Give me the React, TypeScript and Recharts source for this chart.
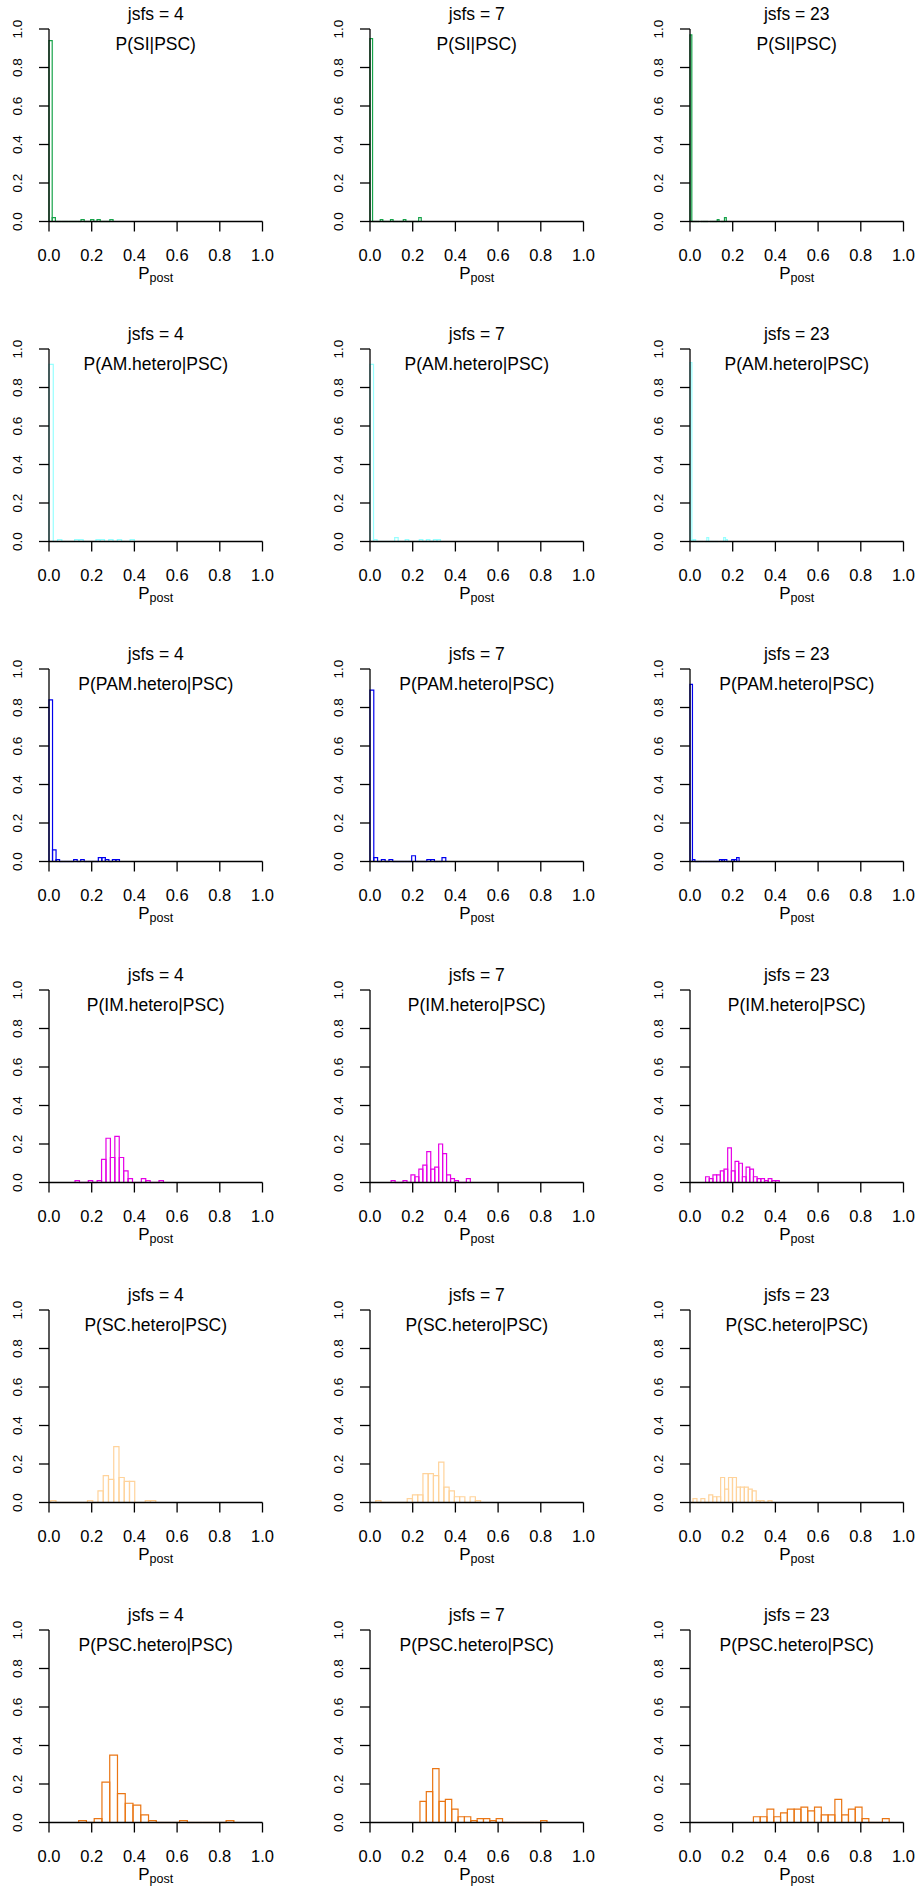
import React from "react";
import { ComposedChart, XAxis, YAxis, ReferenceArea, Label } from "recharts";

// panel headers
const JSFS = [4, 7, 23];
const MODELS = ["SI", "AM.hetero", "PAM.hetero", "IM.hetero", "SC.hetero", "PSC.hetero"];
const X_TICKS = [0, 0.2, 0.4, 0.6, 0.8, 1];
const Y_TICKS = [0, 0.2, 0.4, 0.6, 0.8, 1];

// histogram ranges [min, max] per jsfs (4, 7, 23), 20 equal bins each
const SI_RANGE = [[0, 0.3], [0, 0.24], [0, 0.17]];
const AM_RANGE = [[0, 0.4], [0, 0.33], [0, 0.175]];
const PAM_RANGE = [[0, 0.33], [0, 0.355], [0, 0.23]];
const IM_RANGE = [[0.122, 0.536], [0.099, 0.47], [0.073, 0.418]];
const SC_RANGE = [[0.008, 0.5], [0.027, 0.518], [0.014, 0.384]];
const PSC_RANGE = [[0.139, 0.866], [0.234, 0.829], [0.297, 0.933]];

// bin proportions
const SI_4 = [0.94, 0.02, 0, 0, 0, 0, 0, 0, 0, 0, 0.01, 0, 0, 0.01, 0, 0.01, 0, 0, 0, 0.01];
const SI_7 = [0.95, 0, 0, 0, 0.01, 0, 0, 0, 0.01, 0, 0, 0, 0, 0.01, 0, 0, 0, 0, 0, 0.02];
const SI_23 = [0.97, 0, 0, 0, 0, 0, 0, 0, 0, 0, 0, 0, 0, 0, 0, 0.01, 0, 0, 0, 0.02];

const AM_4 = [0.92, 0, 0.01, 0, 0, 0, 0.01, 0.01, 0, 0, 0, 0.01, 0.01, 0, 0.01, 0, 0.01, 0, 0, 0.01];
const AM_7 = [0.92, 0.01, 0, 0, 0, 0, 0, 0.02, 0, 0, 0.01, 0, 0, 0, 0.01, 0, 0.01, 0, 0.01, 0.01];
const AM_23 = [0.93, 0.01, 0.01, 0, 0, 0, 0, 0, 0, 0.02, 0, 0, 0, 0, 0, 0, 0, 0, 0.02, 0.01];

const PAM_4 = [0.84, 0.06, 0.01, 0, 0, 0, 0, 0.01, 0, 0.01, 0, 0, 0, 0, 0.02, 0.02, 0.01, 0, 0.01, 0.01];
const PAM_7 = [0.89, 0.02, 0, 0.01, 0, 0.01, 0, 0, 0, 0, 0, 0.03, 0, 0, 0, 0.01, 0.01, 0, 0, 0.02];
const PAM_23 = [0.92, 0.01, 0, 0, 0, 0, 0, 0, 0, 0, 0, 0, 0.01, 0.01, 0.01, 0, 0, 0.01, 0.01, 0.02];

const IM_4 = [0.01, 0, 0, 0.01, 0, 0.01, 0.12, 0.23, 0.13, 0.24, 0.13, 0.06, 0.02, 0, 0, 0.02, 0.01, 0, 0, 0.01];
const IM_7 = [0.01, 0, 0, 0.01, 0, 0.04, 0.03, 0.07, 0.09, 0.16, 0.07, 0.08, 0.2, 0.15, 0.04, 0.02, 0.01, 0, 0, 0.02];
const IM_23 = [0.03, 0.02, 0.04, 0.04, 0.06, 0.07, 0.18, 0.06, 0.11, 0.1, 0.03, 0.08, 0.07, 0.03, 0.02, 0.02, 0.01, 0.02, 0.01, 0.01];

const SC_4 = [0.01, 0, 0, 0, 0, 0, 0, 0.01, 0, 0.06, 0.14, 0.12, 0.29, 0.13, 0.11, 0.11, 0, 0, 0.01, 0.01];
const SC_7 = [0.01, 0, 0, 0, 0, 0, 0.02, 0.04, 0.04, 0.15, 0.15, 0.14, 0.21, 0.08, 0.06, 0.03, 0.03, 0, 0.03, 0.01];
const SC_23 = [0.02, 0, 0.02, 0, 0.04, 0.03, 0.03, 0.13, 0.07, 0.13, 0.13, 0.08, 0.08, 0.08, 0.07, 0.06, 0.01, 0.01, 0, 0.01];

const PSC_4 = [0.01, 0, 0.02, 0.21, 0.35, 0.15, 0.1, 0.09, 0.04, 0.01, 0, 0, 0, 0.01, 0, 0, 0, 0, 0, 0.01];
const PSC_7 = [0.11, 0.16, 0.28, 0.11, 0.12, 0.07, 0.03, 0.03, 0.01, 0.02, 0.02, 0.01, 0.02, 0, 0, 0, 0, 0, 0, 0.01];
const PSC_23 = [0.03, 0.03, 0.07, 0.03, 0.05, 0.07, 0.07, 0.08, 0.06, 0.08, 0.04, 0.04, 0.12, 0.04, 0.07, 0.08, 0.02, 0, 0, 0.02];

const ROWS = [
  { range: SI_RANGE, hist: [SI_4, SI_7, SI_23], color: "#17a34a" },
  { range: AM_RANGE, hist: [AM_4, AM_7, AM_23], color: "#97ffff" },
  { range: PAM_RANGE, hist: [PAM_4, PAM_7, PAM_23], color: "#0000ee" },
  { range: IM_RANGE, hist: [IM_4, IM_7, IM_23], color: "#e600e6" },
  { range: SC_RANGE, hist: [SC_4, SC_7, SC_23], color: "#ffd39b" },
  { range: PSC_RANGE, hist: [PSC_4, PSC_7, PSC_23], color: "#ea7614" },
];

const FONT = '"Liberation Sans", Arial, Helvetica, sans-serif';
const COL_STEP = 320.5;
const ROW_STEP = 320.2;
const PANEL_W = 306;
const PANEL_H = 310;
const MARGIN = { top: 29, right: 43.5, bottom: 28.5, left: 9 };
const Y_AXIS_W = 40;
const X_AXIS_H = 60;
const PLOT_CX = MARGIN.left + Y_AXIS_W + (PANEL_W - MARGIN.left - Y_AXIS_W - MARGIN.right) / 2;

function toBins(range: number[], h: number[]) {
  const w = (range[1] - range[0]) / h.length;
  return h.map((v, i) => ({ x1: range[0] + i * w, x2: range[0] + (i + 1) * w, h: v }));
}

const binShape = (color: string) => (p: any) => {
  const { x, y, width, height } = p;
  const d = height > 0.3 ? `M${x},${y}h${width}v${height}h${-width}Z` : `M${x},${y + height}h${width}`;
  return <path d={d} fill="none" stroke={color} strokeWidth={1.2} />;
};

const XTick = (p: any) => (
  <text x={p.x} y={p.y + 29.5} textAnchor="middle" fontSize={16.5} fontFamily={FONT} fill="#000">
    {Number(p.payload.value).toFixed(1)}
  </text>
);

const YTick = (p: any) => (
  <text
    transform={`translate(${p.x - 17.3},${p.y}) rotate(-90)`}
    textAnchor="middle"
    fontSize={13.5}
    fontFamily={FONT}
    fill="#000"
  >
    {Number(p.payload.value).toFixed(1)}
  </text>
);

const PPost = (p: any) => {
  const vb = p.viewBox || { x: 49, y: 221.5, width: 213.5 };
  return (
    <text x={vb.x + vb.width / 2} y={vb.y + 57.5} textAnchor="middle" fontFamily={FONT} fill="#000">
      <tspan fontSize={17}>P</tspan>
      <tspan fontSize={12.5} dy={3}>post</tspan>
    </text>
  );
};

function Panel({ row, col }: { row: number; col: number }) {
  const spec = ROWS[row];
  const bins = toBins(spec.range[col], spec.hist[col]);
  const shape = binShape(spec.color);
  return (
    <div style={{ position: "absolute", left: col * COL_STEP, top: row * ROW_STEP, width: PANEL_W, height: PANEL_H }}>
      <ComposedChart width={PANEL_W} height={PANEL_H} data={bins} margin={MARGIN}>
        <XAxis
          type="number"
          dataKey="x1"
          domain={[0, 1]}
          ticks={X_TICKS}
          interval={0}
          allowDataOverflow
          height={X_AXIS_H}
          tickSize={10}
          tickMargin={0}
          axisLine={{ stroke: "#000", strokeWidth: 1.3 }}
          tickLine={{ stroke: "#000", strokeWidth: 1.3 }}
          tick={XTick}
        >
          <Label content={PPost} />
        </XAxis>
        <YAxis
          type="number"
          domain={[0, 1]}
          ticks={Y_TICKS}
          interval={0}
          allowDataOverflow
          width={Y_AXIS_W}
          tickSize={10}
          tickMargin={0}
          axisLine={{ stroke: "#000", strokeWidth: 1.3 }}
          tickLine={{ stroke: "#000", strokeWidth: 1.3 }}
          tick={YTick}
        />
        {bins.map((b, i) => (
          <ReferenceArea key={i} x1={b.x1} x2={b.x2} y1={0} y2={b.h} ifOverflow="visible" shape={shape} />
        ))}
      </ComposedChart>
      <svg
        width={PANEL_W}
        height={PANEL_H}
        style={{ position: "absolute", left: 0, top: 0, pointerEvents: "none" }}
      >
        <text x={PLOT_CX} y={19.5} textAnchor="middle" fontSize={17.5} fontFamily={FONT} fill="#000">
          {`jsfs = ${JSFS[col]}`}
        </text>
        <text x={PLOT_CX} y={50} textAnchor="middle" fontSize={17.5} fontFamily={FONT} fill="#000">
          {`P(${MODELS[row]}|PSC)`}
        </text>
      </svg>
    </div>
  );
}

export default function App() {
  return (
    <div style={{ position: "absolute", left: 0, top: 0, width: 918, height: 1888, overflow: "hidden", background: "#fff" }}>
      {ROWS.map((_, r) => JSFS.map((_, c) => <Panel key={`${r}-${c}`} row={r} col={c} />))}
    </div>
  );
}
